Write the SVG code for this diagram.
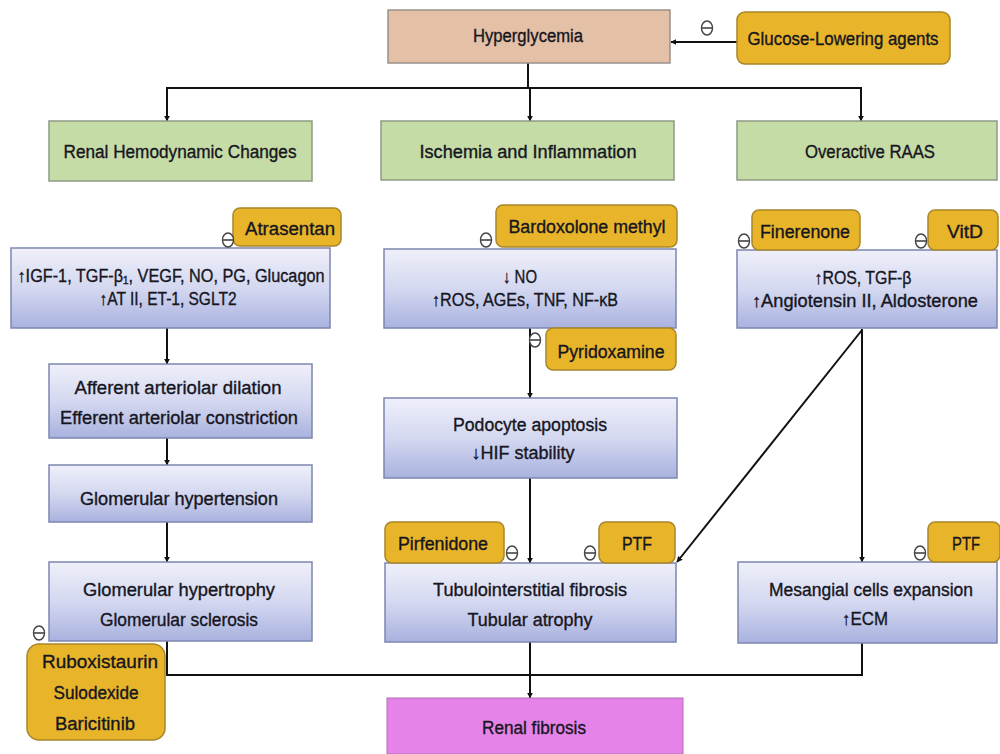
<svg xmlns="http://www.w3.org/2000/svg" width="1000" height="754" viewBox="0 0 1000 754">
<defs>
<linearGradient id="bg" x1="0" y1="0" x2="0" y2="1">
<stop offset="0" stop-color="#eff0fa"/>
<stop offset="0.5" stop-color="#d4d8f0"/>
<stop offset="1" stop-color="#a9b2df"/>
</linearGradient>
<marker id="ah" viewBox="0 0 10 10" refX="9" refY="5" markerWidth="6" markerHeight="6" orient="auto" markerUnits="userSpaceOnUse">
<path d="M0,0 L10,5 L0,10 z" fill="#111"/>
</marker>
<g id="minus">
<ellipse cx="0" cy="0" rx="5.5" ry="7" fill="#fff" stroke="#444" stroke-width="1.4"/>
<line x1="-5" y1="0" x2="5" y2="0" stroke="#444" stroke-width="1.6"/>
</g>
</defs>
<style>
text{font-family:"Liberation Sans",Arial,sans-serif;font-size:18px;fill:#16161f;stroke:#16161f;stroke-width:0.35;text-anchor:middle}
.blue{fill:url(#bg);stroke:#7d86b0;stroke-width:1.5}
.green{fill:#c6dca6;stroke:#8e9b84;stroke-width:1.5}
.tan{fill:#e4c0a6;stroke:#9a908c;stroke-width:1.5}
.gold{fill:#e8b42a;stroke:#a8862a;stroke-width:1.5}
.mag{fill:#e683e8;stroke:#b070b0;stroke-width:1}
.c{fill:none;stroke:#111;stroke-width:2}
.ca{fill:none;stroke:#111;stroke-width:2;marker-end:url(#ah)}
</style>
<rect width="1000" height="754" fill="#fff"/>

<g id="connectors">
<line class="ca" x1="737" y1="42" x2="671" y2="42"/>
<line class="c" x1="528" y1="63" x2="528" y2="88"/>
<polyline class="c" points="167,121 167,88 861,88 861,121"/>
<line class="ca" x1="167" y1="88" x2="167" y2="121"/>
<line class="ca" x1="530" y1="88" x2="530" y2="121"/>
<line class="ca" x1="861" y1="88" x2="861" y2="121"/>
<line class="ca" x1="167" y1="328" x2="167" y2="364"/>
<line class="ca" x1="167" y1="438" x2="167" y2="465"/>
<line class="ca" x1="167" y1="522" x2="167" y2="562"/>
<polyline class="c" points="167,641 167,675 862,675 862,643"/>
<line class="ca" x1="530" y1="642" x2="530" y2="698"/>
<line class="ca" x1="530" y1="328" x2="530" y2="398"/>
<line class="ca" x1="530" y1="478" x2="530" y2="563"/>
<line class="ca" x1="862" y1="329" x2="862" y2="562"/>
<line class="ca" x1="862" y1="330" x2="677" y2="562"/>
</g>

<g id="hyperglycemia">
<rect class="tan" x="388" y="10" width="282" height="53"/>
<text x="528" y="42" textLength="110" lengthAdjust="spacingAndGlyphs">Hyperglycemia</text>
</g>
<g id="glucose-lowering">
<rect class="gold" x="737" y="12" width="213" height="52" rx="8"/>
<text x="843" y="45" textLength="191" lengthAdjust="spacingAndGlyphs">Glucose-Lowering agents</text>
<use href="#minus" x="707" y="28"/>
</g>

<g id="renal-hemodynamic">
<rect class="green" x="49" y="121" width="263" height="60"/>
<text x="180" y="158" textLength="233" lengthAdjust="spacingAndGlyphs">Renal Hemodynamic Changes</text>
</g>
<g id="ischemia">
<rect class="green" x="381" y="121" width="293" height="59"/>
<text x="528" y="158" textLength="217" lengthAdjust="spacingAndGlyphs">Ischemia and Inflammation</text>
</g>
<g id="raas">
<rect class="green" x="737" y="121" width="260" height="59"/>
<text x="870" y="158" textLength="130" lengthAdjust="spacingAndGlyphs">Overactive RAAS</text>
</g>

<g id="left-factors">
<rect class="blue" x="11" y="248" width="319" height="80"/>
<text x="171" y="282" textLength="307" lengthAdjust="spacingAndGlyphs">↑IGF-1, TGF-β₁, VEGF, NO, PG, Glucagon</text>
<text x="168" y="305" textLength="137" lengthAdjust="spacingAndGlyphs">↑AT II, ET-1, SGLT2</text>
</g>
<g id="atrasentan">
<rect class="gold" x="233" y="208" width="108" height="38" rx="7"/>
<text x="290" y="235" textLength="90" lengthAdjust="spacingAndGlyphs">Atrasentan</text>
<use href="#minus" x="228" y="240"/>
</g>

<g id="mid-factors">
<rect class="blue" x="384" y="249" width="292" height="79"/>
<text x="520" y="283" textLength="34" lengthAdjust="spacingAndGlyphs">↓ NO</text>
<text x="525" y="306" textLength="186" lengthAdjust="spacingAndGlyphs">↑ROS, AGEs, TNF, NF-κB</text>
</g>
<g id="bardoxolone">
<rect class="gold" x="496" y="205" width="181" height="42" rx="7"/>
<text x="587" y="233" textLength="157" lengthAdjust="spacingAndGlyphs">Bardoxolone methyl</text>
<use href="#minus" x="486" y="240"/>
</g>
<g id="pyridoxamine">
<rect class="gold" x="546" y="328" width="130" height="42" rx="7"/>
<text x="611" y="358" textLength="107" lengthAdjust="spacingAndGlyphs">Pyridoxamine</text>
<use href="#minus" x="535" y="340"/>
</g>

<g id="right-factors">
<rect class="blue" x="737" y="250" width="260" height="78"/>
<text x="863" y="284" textLength="97" lengthAdjust="spacingAndGlyphs">↑ROS, TGF-β</text>
<text x="865" y="307" textLength="226" lengthAdjust="spacingAndGlyphs">↑Angiotensin II, Aldosterone</text>
</g>
<g id="finerenone">
<rect class="gold" x="752" y="210" width="108" height="40" rx="7"/>
<text x="805" y="238" textLength="90" lengthAdjust="spacingAndGlyphs">Finerenone</text>
<use href="#minus" x="744" y="241"/>
</g>
<g id="vitd">
<rect class="gold" x="928" y="210" width="70" height="40" rx="7"/>
<text x="965" y="238" textLength="36" lengthAdjust="spacingAndGlyphs">VitD</text>
<use href="#minus" x="921" y="241"/>
</g>

<g id="arteriolar">
<rect class="blue" x="49" y="364" width="263" height="74"/>
<text x="178" y="394" textLength="207" lengthAdjust="spacingAndGlyphs">Afferent arteriolar dilation</text>
<text x="179" y="424" textLength="238" lengthAdjust="spacingAndGlyphs">Efferent arteriolar constriction</text>
</g>
<g id="glom-hypertension">
<rect class="blue" x="49" y="465" width="263" height="57"/>
<text x="179" y="505" textLength="198" lengthAdjust="spacingAndGlyphs">Glomerular hypertension</text>
</g>
<g id="glom-hypertrophy">
<rect class="blue" x="49" y="562" width="263" height="79"/>
<text x="179" y="596" textLength="192" lengthAdjust="spacingAndGlyphs">Glomerular hypertrophy</text>
<text x="179" y="626" textLength="158" lengthAdjust="spacingAndGlyphs">Glomerular sclerosis</text>
</g>
<g id="ruboxistaurin">
<rect class="gold" x="27" y="644" width="138" height="96" rx="12"/>
<text x="100" y="668" textLength="116" lengthAdjust="spacingAndGlyphs">Ruboxistaurin</text>
<text x="96" y="699" textLength="85" lengthAdjust="spacingAndGlyphs">Sulodexide</text>
<text x="95" y="730" textLength="80" lengthAdjust="spacingAndGlyphs">Baricitinib</text>
<use href="#minus" x="39" y="633"/>
</g>

<g id="podocyte">
<rect class="blue" x="384" y="398" width="293" height="80"/>
<text x="530" y="431" textLength="154" lengthAdjust="spacingAndGlyphs">Podocyte apoptosis</text>
<text x="523" y="459" textLength="103" lengthAdjust="spacingAndGlyphs">↓HIF stability</text>
</g>
<g id="tubulo">
<rect class="blue" x="385" y="563" width="291" height="79"/>
<text x="530" y="596" textLength="194" lengthAdjust="spacingAndGlyphs">Tubulointerstitial fibrosis</text>
<text x="530" y="626" textLength="125" lengthAdjust="spacingAndGlyphs">Tubular atrophy</text>
</g>
<g id="pirfenidone">
<rect class="gold" x="385" y="522" width="119" height="41" rx="7"/>
<text x="443" y="550" textLength="90" lengthAdjust="spacingAndGlyphs">Pirfenidone</text>
<use href="#minus" x="512" y="553"/>
</g>
<g id="ptf-mid">
<rect class="gold" x="599" y="522" width="76" height="41" rx="7"/>
<text x="637" y="550" textLength="30" lengthAdjust="spacingAndGlyphs">PTF</text>
<use href="#minus" x="590" y="553"/>
</g>

<g id="mesangial">
<rect class="blue" x="738" y="562" width="259" height="81"/>
<text x="871" y="596" textLength="204" lengthAdjust="spacingAndGlyphs">Mesangial cells expansion</text>
<text x="865" y="625" textLength="46" lengthAdjust="spacingAndGlyphs">↑ECM</text>
</g>
<g id="ptf-right">
<rect class="gold" x="928" y="522" width="72" height="40" rx="7"/>
<text x="966" y="550" textLength="28" lengthAdjust="spacingAndGlyphs">PTF</text>
<use href="#minus" x="920" y="553"/>
</g>

<g id="renal-fibrosis">
<rect class="mag" x="387" y="698" width="296" height="56"/>
<text x="534" y="734" textLength="104" lengthAdjust="spacingAndGlyphs">Renal fibrosis</text>
</g>
</svg>
